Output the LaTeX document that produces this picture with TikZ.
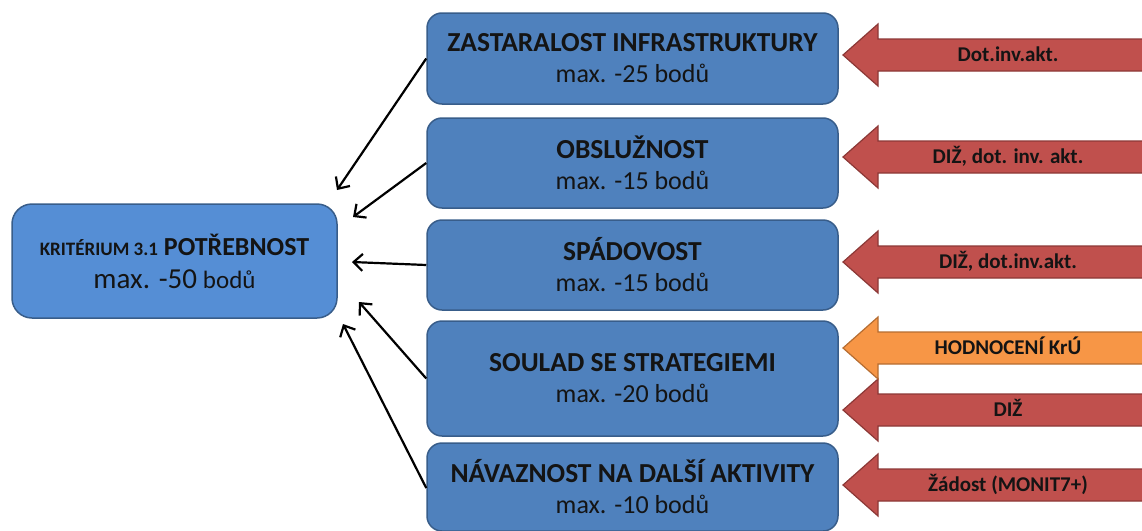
\documentclass[tikz,border=0pt]{standalone}
\usepackage{fontspec}
\setmainfont{Carlito}
\usetikzlibrary{arrows.meta}
\definecolor{boxblue}{RGB}{79,129,189}
\definecolor{boxedge}{RGB}{56,93,138}
\definecolor{mainblue}{RGB}{85,142,213}
\definecolor{arrred}{RGB}{192,80,77}
\definecolor{arrrededge}{RGB}{140,56,54}
\definecolor{arrorange}{RGB}{247,150,70}
\definecolor{arrorangeedge}{RGB}{182,109,49}
\definecolor{txt}{RGB}{20,20,20}
\tikzset{
  rbox/.style={draw=boxedge, fill=boxblue, line width=1.5pt, rounded corners=15pt,
    minimum width=411pt, inner sep=0pt, align=center, text=txt,
    font=\fontsize{26}{31}\selectfont},
  mainbox/.style={draw=boxedge, fill=mainblue, line width=1.5pt, rounded corners=20pt,
    minimum width=325pt, minimum height=114pt, inner sep=0pt, align=center, text=txt,
    font=\fontsize{26}{33}\selectfont},
  conn/.style={line width=2.2pt, -{Straight Barb[length=9pt,width=17pt,line width=2.2pt]}},
  albl/.style={font=\fontsize{21}{24}\selectfont\bfseries, text=txt, inner sep=0pt, anchor=base},
  fatarr/.style={line width=1.2pt, line join=miter},
}
\newcommand\fatarrow[5]{%
  \draw[fatarr, fill=#3, draw=#4] (1150,#2-16) -- (878,#2-16) -- (878,#2-31) -- (843,#2)
    -- (878,#2+31) -- (878,#2+16) -- (1150,#2+16);
  \node[albl] (#1) at (1008,#2+6.5) {#5};
}
\newcommand\ttl[1]{{\fontsize{27.5}{31}\selectfont\bfseries #1}}
\begin{document}
\begin{tikzpicture}[x=1pt,y=-1pt]
\useasboundingbox (0,0) rectangle (1142,530);

\node[mainbox] (main) at (174.5,261) {%
  {\fontsize{19}{22}\selectfont\bfseries KRITÉRIUM 3.1} {\bfseries POTŘEBNOST}\\
  {\fontsize{29}{33}\selectfont max. -50} {\fontsize{25}{33}\selectfont bodů}};

\node[rbox, minimum height=91pt] (b1) at (632.5,58.5) {\ttl{ZASTARALOST INFRASTRUKTURY}\\max. -25 bodů};
\node[rbox, minimum height=90pt] (b2) at (632.5,163) {\ttl{OBSLUŽNOST}\\max. -15 bodů};
\node[rbox, minimum height=90pt] (b3) at (632.5,265) {\ttl{SPÁDOVOST}\\max. -15 bodů};
\node[rbox, minimum height=115pt] (b4) at (632.5,378.5) {\ttl{SOULAD SE STRATEGIEMI}\\max. -20 bodů};
\node[rbox, minimum height=88pt] (b5) at (632.5,487) {\ttl{NÁVAZNOST NA DALŠÍ AKTIVITY}\\max. -10 bodů};

\coordinate (t1) at (337,190);
\coordinate (t2) at (353,217);
\coordinate (t3) at (352,262);
\coordinate (t4) at (359,302);
\coordinate (t5) at (343,324);

\draw[conn] (b1.west) -- (t1);
\draw[conn] (b2.west) -- (t2);
\draw[conn] (b3.west) -- (t3);
\draw[conn] (b4.west) -- (t4);
\draw[conn] ([yshift=-1pt]b5.west) -- (t5);

\fatarrow{a1}{55}{arrred}{arrrededge}{Dot.inv.akt.}
\fatarrow{a2}{157}{arrred}{arrrededge}{DIŽ, dot. inv. akt.}
\fatarrow{a3}{262}{arrred}{arrrededge}{DIŽ, dot.inv.akt.}
\fatarrow{a5}{410}{arrred}{arrrededge}{DIŽ}
\fatarrow{a4}{348}{arrorange}{arrorangeedge}{HODNOCENÍ KrÚ}
\fatarrow{a6}{485}{arrred}{arrrededge}{Žádost (MONIT7+)}
\end{tikzpicture}
\end{document}
